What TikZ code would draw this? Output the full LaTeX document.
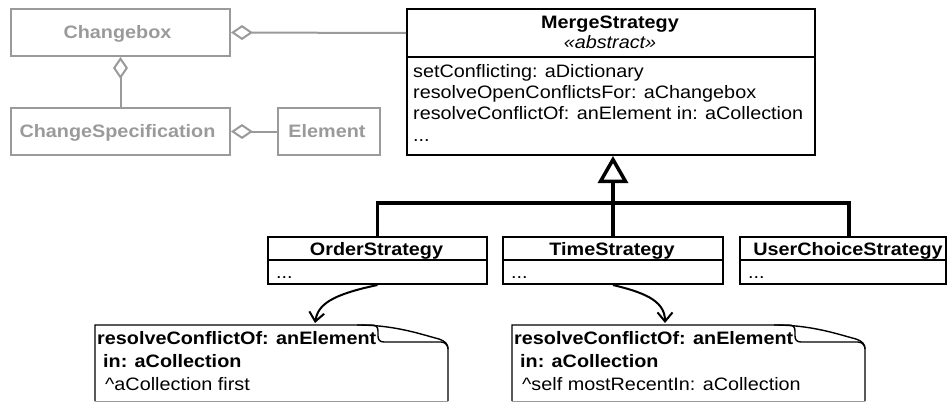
\documentclass[tikz,border=0pt]{standalone}
\usepackage{fontspec}
\setmainfont{Liberation Sans}[FakeStretch=1.1]
\usetikzlibrary{arrows.meta,calc}
\definecolor{ghost}{HTML}{9A9A9A}

\begin{document}
\begin{tikzpicture}[x=1pt,y=-1pt,
  txt/.style={font=\fontsize{18}{21}\selectfont, inner sep=0pt, anchor=base west},
  ctitle/.style={font=\fontsize{18}{21}\selectfont\bfseries, inner sep=0pt, anchor=base},
  box/.style={draw, line width=2pt, inner sep=0pt, anchor=north west},
  gbox/.style={draw=ghost, line width=2pt, inner sep=0pt, anchor=north west},
  gtitle/.style={font=\fontsize{18}{21}\selectfont\bfseries, text=ghost, inner sep=0pt, anchor=base},
  area/.style={inner sep=0pt, anchor=north west, minimum width=353pt, minimum height=76pt},
  aggr/.style={draw=ghost, line width=2pt, {Diamond[open,length=22pt,width=15pt]}-},
  inh/.style={draw, line width=3.5pt},
  dep/.style={draw, line width=2pt, -{Straight Barb[length=9pt,width=15pt]}},
  notefr/.style={draw, line width=1.4pt},
  notepage/.pic={
    \draw[notefr] (0,76) -- (0,0) -- (277,0) .. controls (281,0) and (283,2) .. (283,6)
      -- (283,11) .. controls (283,15) and (285,17) .. (289,17) -- (346,17)
      .. controls (350,17) and (353,20) .. (353,24) -- (353,76);
    \draw[notefr] (262,0) .. controls (300,0) and (325,9) .. (344,14)
      .. controls (350,16) and (353,19) .. (353,24);
    \draw[ghost, line width=1pt] (0,76) -- (353,76);
  }
]
\useasboundingbox (0,0) rectangle (947,402);

% change-tracking classes (greyed out)
\node[gbox, minimum width=219pt, minimum height=47pt] (cb) at (10,8) {};
\node[gtitle] (cbt) at (117.5,38) {Changebox};
\node[gbox, minimum width=219pt, minimum height=47pt] (cs) at (10,107) {};
\node[gtitle] (cst) at (117.5,137) {ChangeSpecification};
\node[gbox, minimum width=102pt, minimum height=47pt] (el) at (277,107) {};
\node[gtitle] (elt) at (327,137) {Element};

% MergeStrategy
\node[box, minimum width=408pt, minimum height=48pt] (msh) at (406,8) {};
\node[box, minimum width=408pt, minimum height=98pt] (msb) at (406,56) {};
\node[ctitle] (mst) at (610,28) {MergeStrategy};
\node[ctitle, font=\fontsize{18}{21}\selectfont\itshape] (msa) at (610,48) {«abstract»};
\node[txt] (ms1) at (413,77) {setConflicting: aDictionary};
\node[txt] (ms2) at (413,98) {resolveOpenConflictsFor: aChangebox};
\node[txt] (ms3) at (413,119) {resolveConflictOf: anElement in: aCollection};
\node[txt] (ms4) at (413,141) {...};

% concrete strategies
\node[box, minimum width=219pt, minimum height=23pt] (osh) at (267,236) {};
\node[box, minimum width=219pt, minimum height=24pt] (osb) at (267,259) {};
\node[ctitle] (ost) at (376.5,255) {OrderStrategy};
\node[txt] (osd) at (276,278) {...};

\node[box, minimum width=220pt, minimum height=23pt] (tsh) at (502,236) {};
\node[box, minimum width=220pt, minimum height=24pt] (tsb) at (502,259) {};
\node[ctitle] (tst) at (612,255) {TimeStrategy};
\node[txt] (tsd) at (511,278) {...};

\node[box, minimum width=206pt, minimum height=23pt] (ush) at (739,236) {};
\node[box, minimum width=206pt, minimum height=24pt] (usb) at (739,259) {};
\node[ctitle] (ust) at (848,255) {UserChoiceStrategy};
\node[txt] (usd) at (748,278) {...};

% aggregations
\draw[aggr] (cb.east) -- (msh.west);
\draw[aggr] (cb.south) -- (cs.north);
\draw[aggr] (cs.east) -- (el.west);

% generalisation
\coordinate (bar) at (612,203);
\draw[inh, -{Triangle[open,length=27pt,width=30pt]}] (tsh.north) -- (tsh.north |- msb.south);
\draw[inh] (osh.north) |- (bar) -| ($(ush.north)+(6,0)$);

% method notes
\node[area] (n1) at (95,325) {};
\pic at (n1.north west) {notepage};
\node[txt, font=\fontsize{18}{21}\selectfont\bfseries] (n1a) at ($(n1.north west)+(2,19)$) {resolveConflictOf: anElement};
\node[txt, font=\fontsize{18}{21}\selectfont\bfseries] (n1b) at ($(n1.north west)+(8,42)$) {in: aCollection};
\node[txt] (n1c) at ($(n1.north west)+(10,65)$) {\textasciicircum aCollection first};

\node[area] (n2) at (512,325) {};
\pic at (n2.north west) {notepage};
\node[txt, font=\fontsize{18}{21}\selectfont\bfseries] (n2a) at ($(n2.north west)+(2,19)$) {resolveConflictOf: anElement};
\node[txt, font=\fontsize{18}{21}\selectfont\bfseries] (n2b) at ($(n2.north west)+(8,42)$) {in: aCollection};
\node[txt] (n2c) at ($(n2.north west)+(10,65)$) {\textasciicircum self mostRecentIn: aCollection};

% implementation links
\draw[dep] (osb.south) .. controls (330,295) and (318,305) .. ($(n1.north west)+(220,-2)$);
\draw[dep] (tsb.south) .. controls (642,292) and (665,300) .. ($(n2.north west)+(153,-2)$);
\end{tikzpicture}
\end{document}
